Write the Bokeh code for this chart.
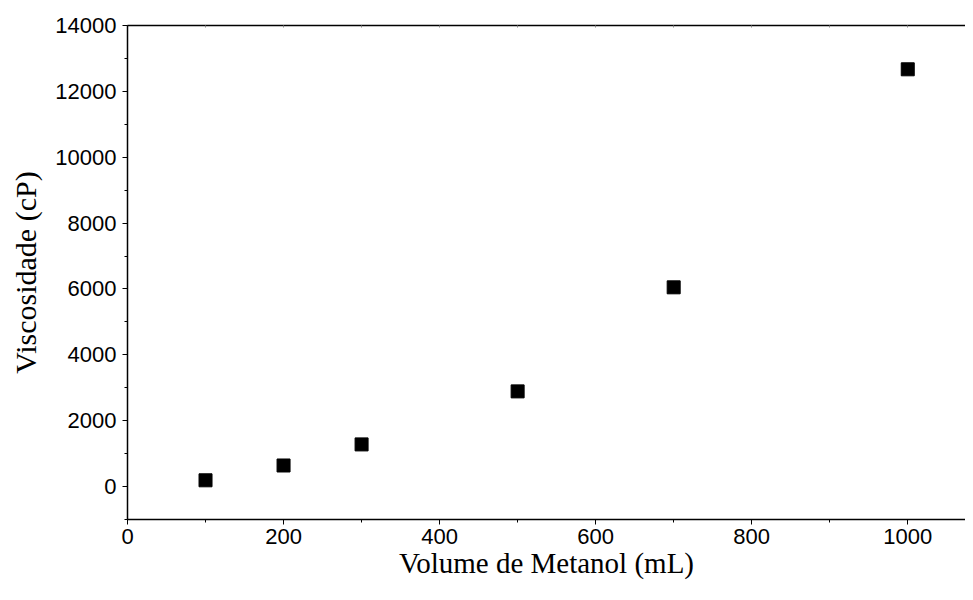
from bokeh.plotting import figure
from bokeh.models import LinearAxis, SingleIntervalTicker
from bokeh.embed import file_html
from bokeh.resources import INLINE

volume_ml = [100, 200, 300, 500, 700, 1000]
viscosidade_cp = [190, 640, 1280, 2890, 6050, 12670]

x_title = "Volume de Metanol (mL)"
y_title = "Viscosidade (cP)"

p = figure(width=965, height=584, x_range=(0, 1074), y_range=(-1000, 14000),
           output_backend="svg", toolbar_location=None,
           min_border_left=127, min_border_top=25, min_border_right=0, min_border_bottom=65)
p.outline_line_color = None
p.xgrid.grid_line_color = None
p.ygrid.grid_line_color = None
p.background_fill_color = "white"
p.border_fill_color = "white"

p.scatter(volume_ml, viscosidade_cp, marker="square", size=13, color="black")

tick_font = "Liberation Sans"
title_font = "Liberation Serif"

xa = p.xaxis[0]
xa.ticker = SingleIntervalTicker(interval=200, num_minor_ticks=2)
ya = p.yaxis[0]
ya.ticker = SingleIntervalTicker(interval=2000, num_minor_ticks=2)

for ax in (xa, ya):
    ax.axis_line_color = "black"
    ax.axis_line_width = 1.5
    ax.major_tick_line_color = "black"
    ax.minor_tick_line_color = "black"
    ax.major_tick_out = 5
    ax.major_tick_in = 0
    ax.minor_tick_out = 3
    ax.minor_tick_in = 0
    ax.major_label_text_font = tick_font
    ax.major_label_text_font_size = "22px"
    ax.major_label_text_color = "black"
    ax.axis_label_text_font = title_font
    ax.axis_label_text_font_style = "normal"
    ax.axis_label_text_color = "black"

xa.axis_label = x_title
ya.axis_label = y_title
xa.axis_label_text_font_size = "29px"
ya.axis_label_text_font_size = "30px"
xa.major_label_standoff = 4
ya.major_label_standoff = 6
xa.axis_label_standoff = 0
ya.axis_label_standoff = 10

top = LinearAxis(ticker=SingleIntervalTicker(interval=100, num_minor_ticks=0))
top.axis_line_color = "black"
top.axis_line_width = 1.5
top.major_tick_in = 2
top.major_tick_out = 0
top.major_tick_line_color = "#888888"
top.minor_tick_line_color = None
top.major_label_text_font_size = "0px"
top.major_label_text_color = None
p.add_layout(top, "above")

open("out.html", "w").write(file_html(p, INLINE))
